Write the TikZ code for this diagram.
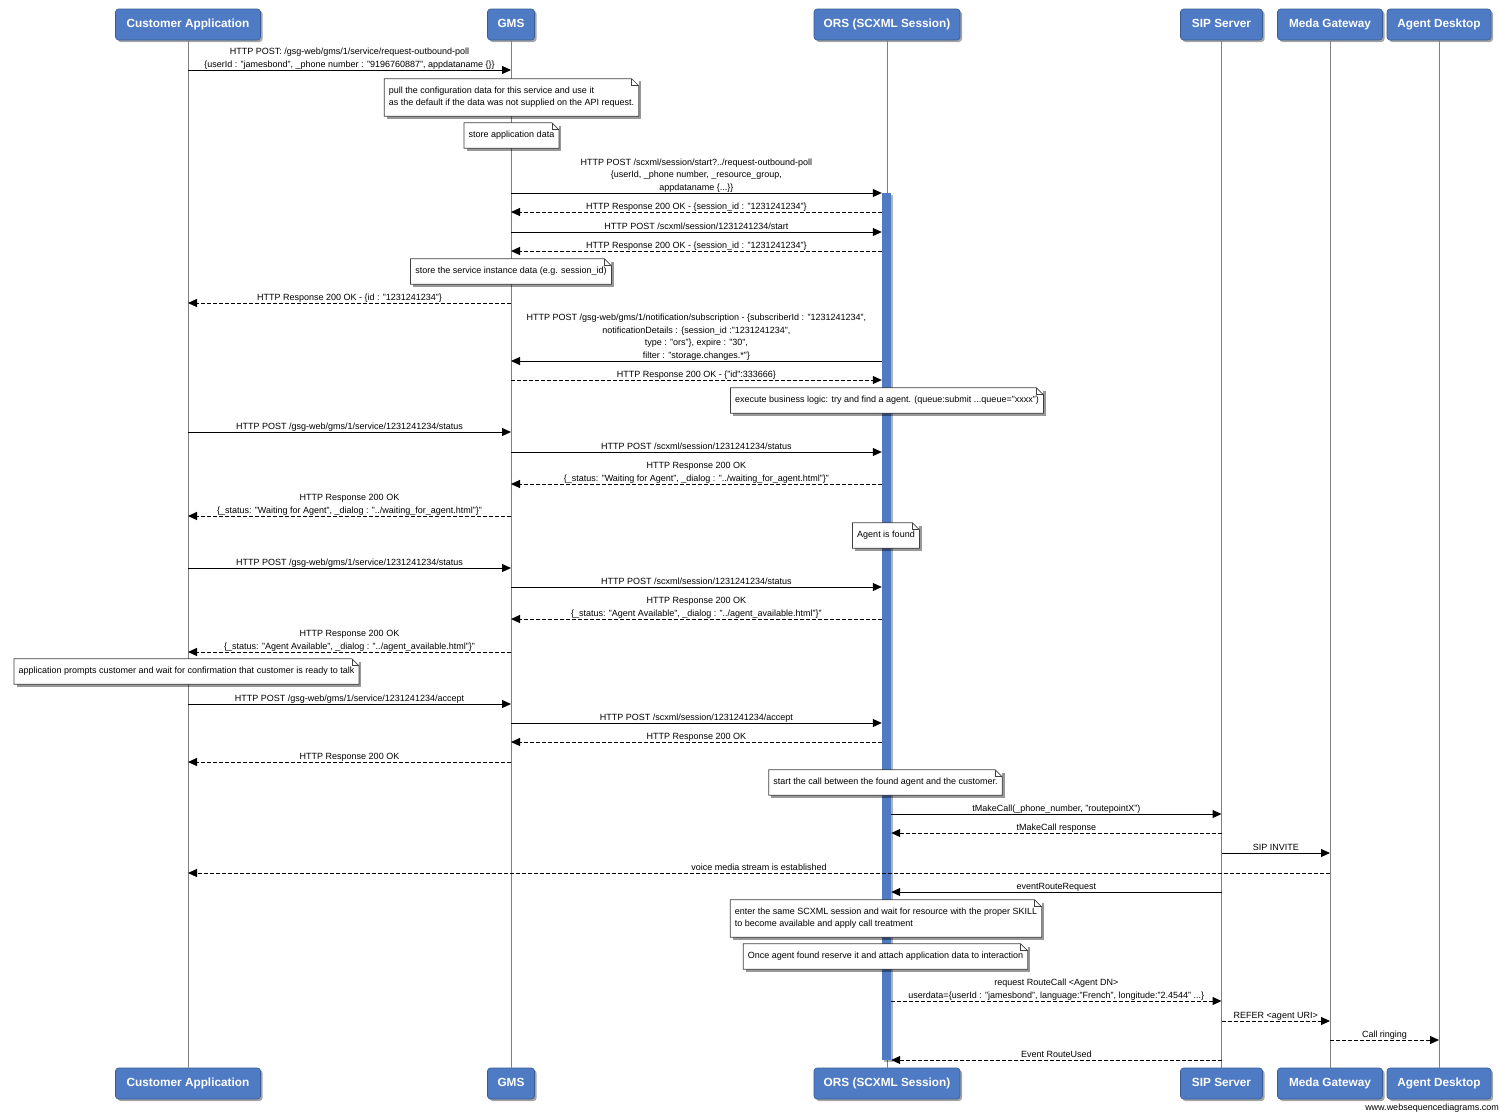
\documentclass[tikz,border=0pt]{standalone}
\usepackage{fontspec}
\setmainfont{Liberation Sans}
\usetikzlibrary{arrows.meta,shadows}
\definecolor{wsdblue}{RGB}{79,123,196}
\definecolor{lifegray}{RGB}{128,128,128}
\newcommand{\msgline}[5]{\draw[#4] (#1 |- 0,#3) -- node[lbl]{#5} (#2 |- 0,#3);}
\newcommand{\wsdnote}[4]{%
  \node[notebox] (#1) at (#2,#3) {#4};
  \draw[noteline] (#1.north west) -- ([xshift=-7pt]#1.north east) -- ([yshift=-7pt]#1.north east) -- (#1.south east) -- (#1.south west) -- cycle;
  \draw[noteline] ([xshift=-7pt]#1.north east) -- ([xshift=-7pt,yshift=-7pt]#1.north east) -- ([yshift=-7pt]#1.north east);
}
\begin{document}
\begin{tikzpicture}[x=1pt,y=-1pt,font=\fontsize{9}{12.5}\selectfont,
  actor/.style={rectangle, rounded corners=3pt, fill=wsdblue, draw=wsdblue!75!black, line width=0.6pt,
    text=white, font=\fontsize{11.8}{14}\selectfont\bfseries, minimum height=31pt, inner sep=0pt,
    text height=8.5pt, text depth=2.5pt,
    drop shadow={shadow xshift=2pt, shadow yshift=-2pt, opacity=0.35, fill=black}},
  life/.style={draw=lifegray, line width=0.8pt},
  msg/.style={draw=black, line width=1pt, -{Triangle[length=9pt,width=8pt]}},
  rmsg/.style={msg, dash pattern=on 4pt off 2pt},
  lbl/.style={anchor=south, inner sep=0.5pt, align=center, text depth=2pt},
  notebox/.style={rectangle, fill=white, inner xsep=4.5pt, inner ysep=7.75pt,
    execute at begin node={\rule{0pt}{7pt}}, execute at end node={\rule[-2.5pt]{0pt}{2.5pt}},
    align=left, drop shadow={shadow xshift=2.5pt, shadow yshift=-2.5pt, opacity=0.4, fill=black}},
  noteline/.style={draw=black!75, line width=0.7pt, line join=miter}
]
\useasboundingbox (0,0) rectangle (1500,1114);
\fill[white] (0,0) rectangle (1500,1114);

% participants (top)
\node[actor, minimum width=145pt] (ca)  at (188,24.5) {Customer Application};
\node[actor, minimum width=47pt]  (gms) at (511,24.5) {GMS};
\node[actor, minimum width=146pt] (ors) at (887,24.5) {ORS (SCXML Session)};
\node[actor, minimum width=82pt]  (sip) at (1221.5,24.5) {SIP Server};
\node[actor, minimum width=105pt] (mg)  at (1330,24.5) {Meda Gateway};
\node[actor, minimum width=104pt] (ad)  at (1439,24.5) {Agent Desktop};
% participants (bottom)
\node[actor, minimum width=145pt] (ca2)  at (188,1083.5) {Customer Application};
\node[actor, minimum width=47pt]  (gms2) at (511,1083.5) {GMS};
\node[actor, minimum width=146pt] (ors2) at (887,1083.5) {ORS (SCXML Session)};
\node[actor, minimum width=82pt]  (sip2) at (1221.5,1083.5) {SIP Server};
\node[actor, minimum width=105pt] (mg2)  at (1330,1083.5) {Meda Gateway};
\node[actor, minimum width=104pt] (ad2)  at (1439,1083.5) {Agent Desktop};

% lifelines
\draw[life] (ca.south) -- (ca2.north);
\draw[life] (gms.south) -- (gms2.north);
\draw[life] (ors.south) -- (ors2.north);
\draw[life] (sip.south) -- (sip2.north);
\draw[life] (mg.south) -- (mg2.north);
\draw[life] (ad.south) -- (ad2.north);

% activation bar
\node[fill=wsdblue, minimum width=9pt, minimum height=867pt, inner sep=0pt, anchor=north,
  drop shadow={shadow xshift=1.5pt, shadow yshift=-1.5pt, opacity=0.3, fill=black}] (bar) at (886.5,193) {};

% messages
\msgline{ca}{gms}{70}{msg}{HTTP POST: /gsg-web/gms/1/service/request-outbound-poll\\\{userId : "jamesbond", \_phone number : "9196760887", appdataname \{\}\}}
\msgline{gms}{bar.west}{193}{msg}{HTTP POST /scxml/session/start?../request-outbound-poll\\\{userId, \_phone number, \_resource\_group,\\appdataname \{...\}\}}
\msgline{bar.west}{gms}{212}{rmsg}{HTTP Response 200 OK - \{session\_id : "1231241234"\}}
\msgline{gms}{bar.west}{232}{msg}{HTTP POST /scxml/session/1231241234/start}
\msgline{bar.west}{gms}{251}{rmsg}{HTTP Response 200 OK - \{session\_id : "1231241234"\}}
\msgline{gms}{ca}{303}{rmsg}{HTTP Response 200 OK - \{id : "1231241234"\}}
\msgline{bar.west}{gms}{361}{msg}{HTTP POST /gsg-web/gms/1/notification/subscription - \{subscriberId : "1231241234",\\notificationDetails : \{session\_id :"1231241234",\\type : "ors"\}, expire : "30",\\filter : "storage.changes.*"\}}
\msgline{gms}{bar.west}{380}{rmsg}{HTTP Response 200 OK - \{"id":333666\}}
\msgline{ca}{gms}{432}{msg}{HTTP POST /gsg-web/gms/1/service/1231241234/status}
\msgline{gms}{bar.west}{452}{msg}{HTTP POST /scxml/session/1231241234/status}
\msgline{bar.west}{gms}{484}{rmsg}{HTTP Response 200 OK\\\{\_status: "Waiting for Agent", \_dialog : "../waiting\_for\_agent.html"\}"}
\msgline{gms}{ca}{516}{rmsg}{HTTP Response 200 OK\\\{\_status: "Waiting for Agent", \_dialog : "../waiting\_for\_agent.html"\}"}
\msgline{ca}{gms}{568}{msg}{HTTP POST /gsg-web/gms/1/service/1231241234/status}
\msgline{gms}{bar.west}{587}{msg}{HTTP POST /scxml/session/1231241234/status}
\msgline{bar.west}{gms}{619}{rmsg}{HTTP Response 200 OK\\\{\_status: "Agent Available", \_dialog : "../agent\_available.html"\}"}
\msgline{gms}{ca}{652}{rmsg}{HTTP Response 200 OK\\\{\_status: "Agent Available", \_dialog : "../agent\_available.html"\}"}
\msgline{ca}{gms}{704}{msg}{HTTP POST /gsg-web/gms/1/service/1231241234/accept}
\msgline{gms}{bar.west}{723}{msg}{HTTP POST /scxml/session/1231241234/accept}
\msgline{bar.west}{gms}{742}{rmsg}{HTTP Response 200 OK}
\msgline{gms}{ca}{762}{rmsg}{HTTP Response 200 OK}
\msgline{bar.east}{sip}{814}{msg}{tMakeCall(\_phone\_number, "routepointX")}
\msgline{sip}{bar.east}{833}{rmsg}{tMakeCall response}
\msgline{sip}{mg}{853}{msg}{SIP INVITE}
\msgline{mg}{ca}{873}{rmsg}{voice media stream is established}
\msgline{sip}{bar.east}{892}{msg}{eventRouteRequest}
\msgline{bar.east}{sip}{1001}{rmsg}{request RouteCall <Agent DN>\\userdata=\{userId : "jamesbond", language:"French", longitude:"2.4544" ...\}}
\msgline{sip}{mg}{1021}{rmsg}{REFER <agent URI>}
\msgline{mg}{ad}{1040}{rmsg}{Call ringing}
\msgline{sip}{bar.east}{1060}{rmsg}{Event RouteUsed}

% notes
\wsdnote{n1}{511.5}{97.5}{pull the configuration data for this service and use it\\as the default if the data was not supplied on the API request.}
\wsdnote{n2}{511.5}{135.5}{store application data}
\wsdnote{n3}{511}{271.5}{store the service instance data (e.g. session\_id)}
\wsdnote{n4}{887}{400.5}{execute business logic: try and find a agent. (queue:submit ...queue="xxxx")}
\wsdnote{n5}{886}{535.5}{Agent is found}
\wsdnote{n6}{186.5}{671.5}{application prompts customer and wait for confirmation that customer is ready to talk}
\wsdnote{n7}{885.5}{782.5}{start the call between the found agent and the customer.}
\wsdnote{n8}{886}{918.5}{enter the same SCXML session and wait for resource with the proper SKILL\\to become available and apply call treatment}
\wsdnote{n9}{885.5}{956.5}{Once agent found reserve it and attach application data to interaction}

% footer
\node[anchor=south east, inner sep=1pt] (foot) at (1500,1114) {www.websequencediagrams.com};
\end{tikzpicture}
\end{document}
